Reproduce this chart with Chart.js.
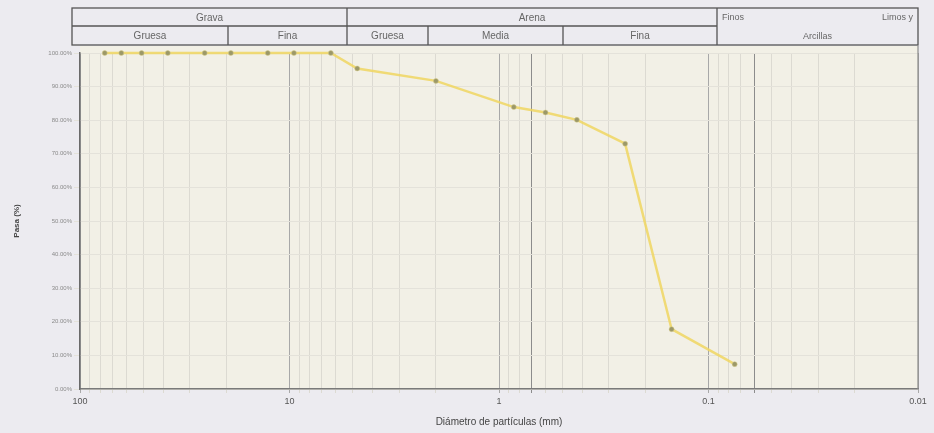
<!DOCTYPE html>
<html>
<head>
<meta charset="utf-8">
<script src="https://cdn.jsdelivr.net/npm/chart.js@4.4.1/dist/chart.umd.min.js"></script>
<style>
  body { margin: 0; background: #ecebf0; }
  #wrap { width: 934px; height: 433px; position: relative; }
</style>
</head>
<body>
<div id="wrap"><canvas id="myChart"></canvas></div>
<script>
// sieve openings (mm) and percent passing
const sieveSizes = [76.2, 63.5, 50.8, 38.1, 25.4, 19.05, 12.7, 9.525, 6.35, 4.75, 2.0, 0.85, 0.6, 0.425, 0.25, 0.15, 0.075];
const passing = [100, 100, 100, 100, 100, 100, 100, 100, 100, 95.4, 91.7, 83.9, 82.3, 80.1, 73.0, 17.8, 7.4];
const xTickLabels = ['100', '10', '1', '0.1', '0.01'];
// header of the classification table
const headerTop = ['Grava', 'Arena'];
const headerBottom = ['Gruesa', 'Fina', 'Gruesa', 'Media', 'Fina'];

function isPow10(v) {
    const l = Math.log10(v);
    return Math.abs(l - Math.round(l)) < 1e-9;
}

const chartPoints = sieveSizes.map((s, i) => ({ x: s, y: passing[i] }));

const paperPlugin = {
    id: 'paper',
    beforeDraw(chart) {
        const a = chart.chartArea;
        const c = chart.ctx;
        c.save();
        c.fillStyle = '#f2f0e6';
        c.fillRect(a.left, a.top - 7, a.right - a.left, a.bottom - a.top + 7);
        c.restore();
    },
    afterDraw(chart) {
        const a = chart.chartArea;
        const c = chart.ctx;
        c.save();
        // right border of plot
        c.strokeStyle = '#8a8a8a';
        c.lineWidth = 1.2;
        c.beginPath();
        c.moveTo(a.right, a.top - 7);
        c.lineTo(a.right, a.bottom);
        c.stroke();

        // classification table above the plot
        const top = 8, mid = 26, bot = 45;
        const left = 72, right = a.right;
        const split1 = 347, split2 = 717;
        c.strokeStyle = '#555';
        c.lineWidth = 1.3;
        c.strokeRect(left, top, right - left, bot - top);
        c.beginPath();
        c.moveTo(split1, top); c.lineTo(split1, bot);
        c.moveTo(split2, top); c.lineTo(split2, bot);
        c.moveTo(left, mid); c.lineTo(split2, mid);
        [228, 428, 563].forEach(x => { c.moveTo(x, mid); c.lineTo(x, bot); });
        c.stroke();

        c.fillStyle = '#666';
        c.font = '10px "Liberation Sans", Arial, sans-serif';
        c.textAlign = 'center';
        c.textBaseline = 'middle';
        c.fillText(headerTop[0], (left + split1) / 2, (top + mid) / 2 + 1);
        c.fillText(headerTop[1], (split1 + split2) / 2, (top + mid) / 2 + 1);
        const cells = [left, 228, split1, 428, 563, split2];
        headerBottom.forEach((t, i) => {
            c.fillText(t, (cells[i] + cells[i + 1]) / 2, (mid + bot) / 2 + 1);
        });
        c.font = '9px "Liberation Sans", Arial, sans-serif';
        c.textAlign = 'left';
        c.fillText('Finos', split2 + 5, (top + mid) / 2 + 1);
        c.textAlign = 'right';
        c.fillText('Limos y', right - 5, (top + mid) / 2 + 1);
        c.textAlign = 'center';
        c.fillText('Arcillas', (split2 + right) / 2, (mid + bot) / 2 + 1);
        c.restore();
    }
};

const ctx = document.getElementById('myChart');
const myChart = new Chart(ctx, {
    type: 'scatter',
    data: {
        datasets: [{
            label: 'Pasa',
            data: chartPoints,
            showLine: true,
            clip: 8,
            borderColor: 'rgba(240, 214, 96, 0.85)',
            borderWidth: 2.5,
            backgroundColor: '#9c9868',
            pointBorderColor: '#d9cf8a',
            pointBorderWidth: 0.5,
            pointRadius: 2.5,
            tension: 0
        }]
    },
    options: {
        responsive: true,
        maintainAspectRatio: false,
        animation: false,
        layout: {
            padding: { top: 53, right: 16, left: 0, bottom: 0 }
        },
        plugins: {
            legend: { display: false },
            tooltip: { enabled: false }
        },
        scales: {
            x: {
                type: 'logarithmic',
                reverse: true,
                min: 0.01,
                max: 100,
                afterBuildTicks: function (scale) {
                    const ticks = [];
                    for (let e = -2; e <= 1; e++) {
                        for (let m = 1; m <= 9; m++) {
                            ticks.push({ value: parseFloat((m * Math.pow(10, e)).toPrecision(3)) });
                        }
                    }
                    ticks.push({ value: 100 });
                    scale.ticks = ticks;
                },
                afterFit: function (scale) { scale.height = 44; },
                ticks: {
                    autoSkip: false,
                    maxRotation: 0,
                    padding: 3,
                    color: '#555',
                    font: { family: '"Liberation Sans", Arial, sans-serif', size: 9 },
                    callback: function (val) {
                        if (!isPow10(val)) return '';
                        const idx = Math.round(2 - Math.log10(val));
                        return xTickLabels[idx];
                    }
                },
                grid: {
                    color: function (c) {
                        const v = c.tick && c.tick.value;
                        if (v === 0.7 || v === 0.06) return '#8c8c8c';
                        return v && isPow10(v) ? '#a8a8a8' : '#dcdad2';
                    },
                    lineWidth: 1,
                    tickLength: 4,
                    drawTicks: true
                },
                border: { color: '#7a7a7a', width: 1.5 },
                title: {
                    display: true,
                    text: 'Diámetro de partículas (mm)',
                    color: '#444',
                    font: { family: '"Liberation Sans", Arial, sans-serif', size: 10 },
                    padding: { top: 1, bottom: 5 }
                }
            },
            y: {
                min: 0,
                max: 100,
                afterFit: function (scale) { scale.width = 80; },
                ticks: {
                    stepSize: 10,
                    padding: 2,
                    color: '#8a8a8a',
                    font: { family: '"Liberation Sans", Arial, sans-serif', size: 6 },
                    callback: v => v.toFixed(2) + '%'
                },
                grid: {
                    color: '#e4e2da',
                    tickLength: 6
                },
                border: { color: '#6a6a6a', width: 1.5 },
                title: {
                    display: true,
                    text: 'Pasa (%)',
                    color: '#444',
                    font: { family: '"Liberation Sans", Arial, sans-serif', size: 8, weight: 'bold' },
                    padding: { top: 12, bottom: 0 }
                }
            }
        }
    },
    plugins: [paperPlugin]
});
</script>
</body>
</html>
